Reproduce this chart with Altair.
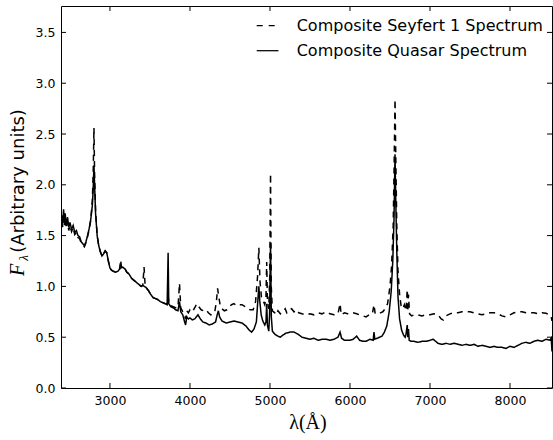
import altair as alt
import pandas as pd

# ---- data ----
qso_wave = [2390, 2400, 2410, 2420, 2430, 2440, 2455, 2470, 2485, 2500, 2520, 2540, 2560, 2580, 2600,
            2620, 2640, 2660, 2680, 2700, 2720, 2740, 2760, 2780, 2790, 2800, 2808, 2820, 2840, 2860,
            2880, 2900, 2920, 2940, 2960, 2980, 3000, 3020, 3040, 3070, 3100, 3130, 3160, 3190, 3210,
            3240, 3270, 3300, 3330, 3360, 3390, 3410, 3430, 3450, 3480, 3510, 3540, 3570, 3600, 3630,
            3660, 3690, 3715, 3727, 3735, 3760, 3790, 3820, 3850, 3869, 3885, 3910, 3930, 3945, 3960,
            3980, 4000, 4030, 4060, 4100, 4130, 4160, 4200, 4240, 4280, 4320, 4340, 4355, 4370, 4400,
            4450, 4500, 4550, 4600, 4650, 4700, 4740, 4770, 4800, 4830, 4850, 4861, 4872, 4890, 4910,
            4935, 4950, 4959, 4968, 4985, 4995, 5007, 5017, 5030, 5060, 5100, 5130, 5160, 5200, 5250,
            5300, 5350, 5400, 5450, 5500, 5550, 5600, 5650, 5700, 5750, 5800, 5850, 5876, 5895, 5930,
            5970, 6000, 6040, 6083, 6120, 6160, 6200, 6250, 6290, 6300, 6310, 6340, 6370, 6400, 6430,
            6460, 6490, 6515, 6535, 6550, 6563, 6572, 6585, 6600, 6620, 6645, 6670, 6690, 6700, 6716,
            6722, 6731, 6740, 6760, 6800, 6850, 6900, 6950, 7000, 7040, 7070, 7100, 7150, 7200, 7250,
            7300, 7350, 7400, 7450, 7500, 7550, 7600, 7650, 7700, 7750, 7800, 7850, 7900, 7950, 8000,
            8050, 8100, 8150, 8200, 8250, 8300, 8350, 8400, 8450, 8500, 8515, 8525]
qso_flux = [1.58, 1.70, 1.62, 1.76, 1.65, 1.72, 1.60, 1.68, 1.58, 1.63, 1.56, 1.60, 1.53, 1.55, 1.50,
            1.49, 1.44, 1.42, 1.40, 1.44, 1.50, 1.57, 1.66, 1.80, 1.95, 2.19, 2.00, 1.72, 1.50, 1.40,
            1.34, 1.30, 1.32, 1.35, 1.33, 1.25, 1.18, 1.16, 1.15, 1.14, 1.15, 1.18, 1.19, 1.17, 1.14,
            1.12, 1.08, 1.06, 1.04, 1.02, 1.00, 1.01, 1.00, 0.99, 0.96, 0.92, 0.89, 0.88, 0.87, 0.85,
            0.84, 0.83, 0.82, 1.33, 0.83, 0.80, 0.79, 0.77, 0.76, 0.85, 0.75, 0.72, 0.66, 0.62, 0.70,
            0.68, 0.69, 0.67, 0.68, 0.72, 0.68, 0.65, 0.64, 0.62, 0.63, 0.65, 0.72, 0.76, 0.70, 0.66,
            0.64, 0.65, 0.66, 0.65, 0.64, 0.61, 0.57, 0.55, 0.58, 0.65, 0.88, 1.00, 0.86, 0.72, 0.66,
            0.62, 0.65, 0.83, 0.62, 0.56, 0.72, 1.42, 0.70, 0.56, 0.53, 0.51, 0.50, 0.52, 0.54, 0.55,
            0.55, 0.53, 0.50, 0.49, 0.48, 0.49, 0.47, 0.48, 0.48, 0.47, 0.48, 0.50, 0.55, 0.49, 0.47,
            0.47, 0.47, 0.48, 0.51, 0.47, 0.46, 0.46, 0.48, 0.47, 0.55, 0.48, 0.49, 0.50, 0.51, 0.55,
            0.61, 0.75, 0.95, 1.25, 1.65, 2.30, 1.85, 1.35, 0.90, 0.68, 0.57, 0.52, 0.50, 0.53, 0.62,
            0.50, 0.58, 0.47, 0.46, 0.46, 0.45, 0.46, 0.46, 0.47, 0.48, 0.46, 0.44, 0.43, 0.44, 0.43,
            0.44, 0.43, 0.42, 0.43, 0.42, 0.43, 0.41, 0.42, 0.41, 0.40, 0.41, 0.40, 0.40, 0.39, 0.41,
            0.40, 0.42, 0.44, 0.45, 0.44, 0.46, 0.47, 0.46, 0.48, 0.47, 0.49, 0.36]

sy1_wave = [2390, 2400, 2410, 2420, 2430, 2440, 2455, 2470, 2485, 2500, 2520, 2540, 2560, 2580, 2600,
            2620, 2640, 2660, 2680, 2700, 2720, 2740, 2760, 2780, 2790, 2800, 2808, 2820, 2840, 2860,
            2880, 2900, 2920, 2940, 2960, 2980, 3000, 3020, 3040, 3070, 3100, 3120, 3133, 3145, 3160,
            3190, 3210, 3240, 3270, 3300, 3330, 3360, 3390, 3410, 3426, 3440, 3450, 3480, 3510, 3540,
            3570, 3600, 3630, 3660, 3690, 3715, 3727, 3740, 3760, 3790, 3820, 3850, 3869, 3885, 3910,
            3930, 3945, 3960, 3980, 4000, 4030, 4060, 4085, 4110, 4140, 4170, 4200, 4230, 4260, 4290,
            4310, 4330, 4345, 4360, 4380, 4400, 4430, 4460, 4490, 4520, 4550, 4580, 4610, 4650, 4690,
            4720, 4750, 4790, 4820, 4845, 4861, 4875, 4895, 4915, 4935, 4950, 4959, 4968, 4985, 4997,
            5007, 5016, 5030, 5060, 5080, 5100, 5130, 5160, 5190, 5210, 5240, 5270, 5300, 5330, 5360,
            5400, 5450, 5500, 5550, 5600, 5650, 5700, 5750, 5800, 5850, 5876, 5890, 5930, 5970, 6000,
            6040, 6083, 6120, 6160, 6200, 6240, 6280, 6300, 6315, 6350, 6380, 6410, 6440, 6470, 6500,
            6520, 6540, 6552, 6563, 6572, 6585, 6600, 6620, 6640, 6660, 6680, 6700, 6716, 6722, 6731,
            6745, 6770, 6800, 6850, 6900, 6950, 7000, 7050, 7100, 7140, 7166, 7200, 7250, 7300, 7350,
            7400, 7450, 7500, 7550, 7600, 7650, 7700, 7750, 7800, 7850, 7900, 7950, 8000, 8050, 8100,
            8150, 8200, 8250, 8300, 8350, 8400, 8450, 8500, 8515, 8525]
sy1_flux = [1.55, 1.65, 1.58, 1.72, 1.60, 1.68, 1.57, 1.64, 1.55, 1.60, 1.54, 1.58, 1.51, 1.53, 1.48,
            1.47, 1.43, 1.41, 1.39, 1.43, 1.49, 1.56, 1.65, 1.85, 2.10, 2.56, 2.10, 1.75, 1.50, 1.40,
            1.34, 1.30, 1.32, 1.35, 1.33, 1.25, 1.18, 1.16, 1.15, 1.14, 1.15, 1.17, 1.26, 1.18, 1.19,
            1.17, 1.14, 1.12, 1.08, 1.06, 1.04, 1.02, 1.00, 1.01, 1.19, 1.00, 0.99, 0.96, 0.92, 0.89,
            0.88, 0.87, 0.85, 0.84, 0.83, 0.83, 0.90, 0.83, 0.81, 0.80, 0.79, 0.79, 1.03, 0.79, 0.75,
            0.72, 0.68, 0.76, 0.74, 0.77, 0.75, 0.79, 0.83, 0.80, 0.77, 0.76, 0.77, 0.74, 0.72, 0.73,
            0.75, 0.85, 0.98, 0.90, 0.80, 0.78, 0.76, 0.77, 0.80, 0.82, 0.83, 0.81, 0.82, 0.82, 0.80,
            0.79, 0.77, 0.77, 0.85, 1.10, 1.38, 1.05, 0.88, 0.86, 0.82, 0.90, 1.24, 0.85, 0.78, 1.10,
            2.11, 1.00, 0.76, 0.74, 0.72, 0.76, 0.73, 0.75, 0.78, 0.74, 0.77, 0.78, 0.75, 0.77, 0.74,
            0.73, 0.72, 0.73, 0.72, 0.74, 0.73, 0.75, 0.73, 0.72, 0.73, 0.83, 0.72, 0.74, 0.73, 0.73,
            0.74, 0.73, 0.72, 0.71, 0.70, 0.72, 0.73, 0.82, 0.73, 0.73, 0.74, 0.75, 0.78, 0.83, 1.00,
            1.20, 1.60, 2.20, 2.84, 2.30, 1.60, 1.15, 0.92, 0.80, 0.78, 0.82, 0.76, 0.97, 0.75, 0.92,
            0.73, 0.71, 0.72, 0.72, 0.71, 0.72, 0.72, 0.73, 0.72, 0.68, 0.67, 0.71, 0.73, 0.74, 0.74,
            0.75, 0.75, 0.75, 0.74, 0.73, 0.72, 0.73, 0.74, 0.74, 0.73, 0.71, 0.70, 0.72, 0.74, 0.75,
            0.75, 0.74, 0.74, 0.74, 0.73, 0.74, 0.735, 0.72, 0.70, 0.66]

series_names = ["Composite Seyfert 1 Spectrum", "Composite Quasar Spectrum"]
x_ticks = [3000, 4000, 5000, 6000, 7000, 8000]
y_ticks = [0.0, 0.5, 1.0, 1.5, 2.0, 2.5, 3.0, 3.5]
x_domain = [2388, 8525]
y_domain = [0, 3.76]

W, H = 491, 382

df = pd.concat([
    pd.DataFrame({"wave": sy1_wave, "flux": sy1_flux, "series": series_names[0]}),
    pd.DataFrame({"wave": qso_wave, "flux": qso_flux, "series": series_names[1]}),
], ignore_index=True)

xs = alt.Scale(domain=x_domain, nice=False, zero=False)
ys = alt.Scale(domain=y_domain, nice=False, zero=False)
xaxis = alt.Axis(values=x_ticks, title=None, grid=False, ticks=False, tickSize=0,
                 domain=False, labelPadding=6, labelFont="DejaVu Sans",
                 labelFontSize=12.5, labelColor="black", format="d")
yaxis = alt.Axis(values=y_ticks, title=None, grid=False, ticks=False, tickSize=0,
                 domain=False, labelPadding=6, labelFont="DejaVu Sans",
                 labelFontSize=12.5, labelColor="black", format=".1f")

lines = alt.Chart(df).mark_line(clip=True, color="black", strokeWidth=1.5).encode(
    x=alt.X("wave:Q", scale=xs, axis=xaxis),
    y=alt.Y("flux:Q", scale=ys, axis=yaxis),
    strokeDash=alt.StrokeDash("series:N", scale=alt.Scale(domain=series_names,
                                                          range=[[6, 5], [1, 0]]), legend=None),
)

xt = pd.DataFrame({"wave": x_ticks})
yt = pd.DataFrame({"flux": y_ticks})
tick_len = 5
bottom = alt.Chart(xt).mark_rule(color="black").encode(
    x=alt.X("wave:Q", scale=xs, axis=xaxis), y=alt.value(H), y2=alt.value(H - tick_len))
top = alt.Chart(xt).mark_rule(color="black").encode(
    x=alt.X("wave:Q", scale=xs, axis=xaxis), y=alt.value(0), y2=alt.value(tick_len))
left = alt.Chart(yt).mark_rule(color="black").encode(
    y=alt.Y("flux:Q", scale=ys, axis=yaxis), x=alt.value(0), x2=alt.value(tick_len))
right = alt.Chart(yt).mark_rule(color="black").encode(
    y=alt.Y("flux:Q", scale=ys, axis=yaxis), x=alt.value(W), x2=alt.value(W - tick_len))

# legend
leg = pd.DataFrame({"label": series_names})
leg_text1 = alt.Chart(leg.iloc[[0]]).mark_text(
    align="left", baseline="middle", font="DejaVu Sans", fontSize=16, color="black").encode(
    text="label:N", x=alt.value(235.7), y=alt.value(19.7))
leg_text2 = alt.Chart(leg.iloc[[1]]).mark_text(
    align="left", baseline="middle", font="DejaVu Sans", fontSize=16, color="black").encode(
    text="label:N", x=alt.value(235.7), y=alt.value(44.7))
leg_line1 = alt.Chart(leg.iloc[[0]]).mark_rule(color="black", strokeWidth=1.25, strokeDash=[6, 6]).encode(
    x=alt.value(195.7), x2=alt.value(216.0), y=alt.value(19.7))
leg_line2 = alt.Chart(leg.iloc[[1]]).mark_rule(color="black", strokeWidth=1.25).encode(
    x=alt.value(195.7), x2=alt.value(217.5), y=alt.value(44.7))

# axis titles
ttl = pd.DataFrame({"t": ["(Arbitrary units)", "F", "λ", "λ(Å)"]})
ytitle = alt.Chart(ttl.iloc[[0]]).mark_text(
    angle=270, align="center", baseline="middle", font="DejaVu Sans", fontSize=18, color="black").encode(
    text="t:N", x=alt.value(-42), y=alt.value(175))
yF = alt.Chart(ttl.iloc[[1]]).mark_text(
    angle=270, align="center", baseline="middle", font="Liberation Serif", fontStyle="italic",
    fontSize=20, color="black").encode(text="t:N", x=alt.value(-43), y=alt.value(264))
ysub = alt.Chart(ttl.iloc[[2]]).mark_text(
    angle=270, align="center", baseline="middle", font="Liberation Serif", fontStyle="italic",
    fontSize=13, color="black").encode(text="t:N", x=alt.value(-37), y=alt.value(252))
xtitle = alt.Chart(ttl.iloc[[3]]).mark_text(
    align="center", baseline="middle", font="Liberation Serif", fontSize=20, color="black").encode(
    text="t:N", x=alt.value(247), y=alt.value(417))

chart = alt.layer(lines, bottom, top, left, right, leg_line1, leg_line2, leg_text1, leg_text2,
                  ytitle, yF, ysub, xtitle).properties(
    width=W, height=H,
    autosize=alt.AutoSizeParams(type="none"),
    padding={"left": 61, "top": 6, "right": 1, "bottom": 52},
    background="white",
).configure_view(stroke="black", strokeWidth=1)

chart.save("out.html", embed_options={"renderer": "svg", "actions": False})
